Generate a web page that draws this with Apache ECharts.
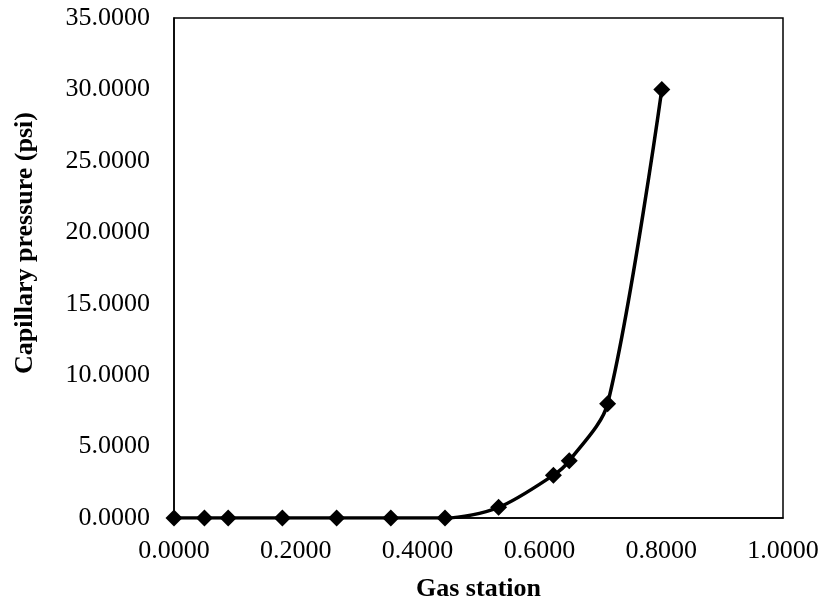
<!DOCTYPE html>
<html>
<head>
<meta charset="utf-8">
<script src="https://cdn.jsdelivr.net/npm/echarts@6/dist/echarts.min.js"></script>
<style>
  html, body { margin: 0; padding: 0; background: #fff; }
  #chart { width: 822px; height: 604px; }
</style>
</head>
<body>
<div id="chart"></div>
<script>
// Gas saturation vs capillary pressure
const gasSaturation = [0.0, 0.05, 0.089, 0.178, 0.267, 0.356, 0.445, 0.533, 0.623, 0.649, 0.712, 0.801];
const capillaryPressure = [0.0, 0.0, 0.0, 0.0, 0.0, 0.0, 0.0, 0.75, 3.0, 4.0, 8.0, 30.0];

const xTitle = 'Gas station';
const yTitle = 'Capillary pressure (psi)';

const FONT = '"Liberation Serif", "Times New Roman", serif';

const points = gasSaturation.map((x, i) => [x, capillaryPressure[i]]);

const chart = echarts.init(document.getElementById('chart'), null, { renderer: 'canvas' });

chart.setOption({
  animation: false,
  backgroundColor: '#fff',
  grid: {
    left: 174, right: 39, top: 18, bottom: 86,
    show: true, borderColor: '#000', borderWidth: 1.5,
    containLabel: false,
    outerBoundsMode: 'none'
  },
  xAxis: {
    type: 'value',
    min: 0, max: 1, interval: 0.2,
    name: xTitle,
    nameLocation: 'middle',
    nameGap: 58,
    nameTextStyle: { fontFamily: FONT, fontSize: 26, fontWeight: 'bold', color: '#000' },
    axisLine: { show: true, onZero: false, lineStyle: { color: '#000', width: 1.5 } },
    axisTick: { show: false },
    splitLine: { show: false },
    axisLabel: {
      margin: 20,
      fontFamily: FONT, fontSize: 26, color: '#000',
      formatter: v => v.toFixed(4)
    }
  },
  yAxis: {
    type: 'value',
    min: 0, max: 35, interval: 5,
    name: yTitle,
    nameLocation: 'middle',
    nameGap: 136,
    nameRotate: 90,
    nameTextStyle: {
      fontFamily: FONT, fontSize: 26, fontWeight: 'bold', color: '#000',
      padding: [0, 0, 0, 50]
    },
    axisLine: { show: true, onZero: false, lineStyle: { color: '#000', width: 1.5 } },
    axisTick: { show: false },
    splitLine: { show: false },
    axisLabel: {
      margin: 24,
      fontFamily: FONT, fontSize: 26, color: '#000',
      formatter: v => v.toFixed(4)
    }
  },
  series: [{
    type: 'line',
    data: points,
    smooth: 0.3,
    symbol: 'diamond',
    symbolSize: 17,
    itemStyle: { color: '#000' },
    lineStyle: { color: '#000', width: 3.5 }
  }]
});
</script>
</body>
</html>
